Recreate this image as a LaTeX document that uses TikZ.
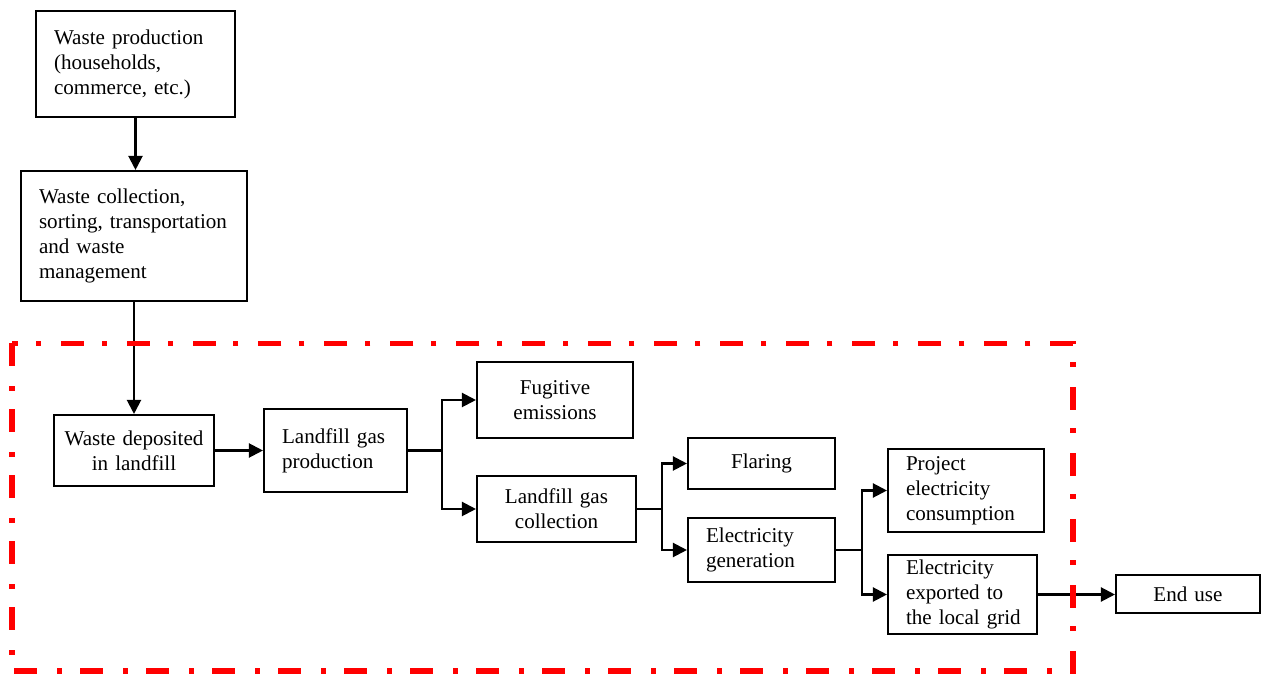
\documentclass[tikz,border=0pt]{standalone}
\usepackage{fontspec}
\setmainfont{Liberation Serif}
\usetikzlibrary{positioning, arrows.meta}
\definecolor{boundaryRed}{RGB}{255, 0, 0}
\newcommand{\boxfont}{\fontsize{12}{14.2}\selectfont\hyphenpenalty=10000\relax\exhyphenpenalty=10000\relax}
\tikzset{
    proc_box/.style={
        draw,
        line width=1.2pt,
        inner ysep=0pt,
        font=\boxfont
    },
    proc_left/.style={
        proc_box,
        align=left,
        inner xsep=0.36cm
    },
    proc_mid/.style={
        proc_box,
        align=center,
        inner xsep=0.1cm
    },
    flow_line/.style={
        line width=1.2pt
    },
    flow_arrow/.style={
        flow_line,
        -{Triangle[length=0.28cm, width=0.28cm]}
    },
    boundary_line/.style={
        draw=boundaryRed,
        line width=3pt,
        dash pattern=on 0.46cm off 0.4cm on 0.1cm off 0.36cm
    }
}

\begin{document}
\begin{tikzpicture}[x=0.02cm, y=-0.02cm]
    \useasboundingbox (0,0) rectangle (1265,675);

    % upstream chain
    \node[proc_left, minimum width=3.98cm, minimum height=2.12cm, text width=3.26cm]
        (prod) at (135.5,64) {Waste production\\(households,\\commerce, etc.)};
    \node[proc_left, minimum width=4.52cm, minimum height=2.6cm, text width=3.8cm]
        (coll) at (134,236) {Waste collection,\\sorting,~transportation\\and waste\\management};

    % project boundary
    \node[proc_mid, minimum width=3.2cm, minimum height=1.42cm, text width=3.0cm]
        (dep) at (134,450.5) {Waste deposited\\in landfill};
    \node[proc_left, minimum width=2.86cm, minimum height=1.66cm, text width=2.14cm]
        (lfgprod) at (335.5,450.5) {Landfill~gas\\production};
    \node[proc_mid, minimum width=3.12cm, minimum height=1.52cm, text width=2.92cm]
        (fug) at (555,400) {Fugitive\\emissions};
    \node[proc_mid, minimum width=3.18cm, minimum height=1.32cm, text width=2.98cm]
        (lfgcoll) at (556.5,509) {Landfill gas\\collection};
    \node[proc_mid, minimum width=2.94cm, minimum height=1.02cm, text width=2.74cm]
        (flare) at (761.5,463.5) {Flaring};
    \node[proc_left, minimum width=2.94cm, minimum height=1.28cm, text width=2.22cm]
        (elecgen) at (761.5,550) {Electricity\\generation};
    \node[proc_left, minimum width=3.12cm, minimum height=1.66cm, text width=2.4cm]
        (proj) at (966,490.5) {Project\\electricity\\consumption};
    \node[proc_left, minimum width=2.98cm, minimum height=1.58cm, text width=2.26cm]
        (export) at (962.5,594.5) {Electricity\\exported to\\the~local~grid};
    \node[proc_mid, minimum width=2.88cm, minimum height=0.76cm, text width=2.68cm]
        (enduse) at (1188,594) {End use};

    \coordinate[right=0.68cm of lfgprod.east] (split_a);
    \coordinate[right=0.5cm of lfgcoll.east] (split_b);
    \coordinate[right=0.52cm of elecgen.east] (split_c);

    \draw[flow_arrow] (prod.south) -- (prod.south |- coll.north);
    \draw[flow_arrow] (coll.south) -- (dep.north);
    \draw[flow_arrow] (dep.east) -- (lfgprod.west);

    \draw[flow_line] (lfgprod.east) -- (split_a);
    \draw[flow_arrow] (split_a) |- (fug.west);
    \draw[flow_arrow] (split_a) |- (lfgcoll.west);

    \draw[flow_line] (lfgcoll.east) -- (split_b);
    \draw[flow_arrow] (split_b) |- (flare.west);
    \draw[flow_arrow] (split_b) |- (elecgen.west);

    \draw[flow_line] (elecgen.east) -- (split_c);
    \draw[flow_arrow] (split_c) |- (proj.west);
    \draw[flow_arrow] (split_c) |- (export.west);

    \draw[flow_arrow] (export.east) -- (export.east -| enduse.west);

    \draw[boundary_line] (12,343.5) rectangle (1073,671);
\end{tikzpicture}
\end{document}
